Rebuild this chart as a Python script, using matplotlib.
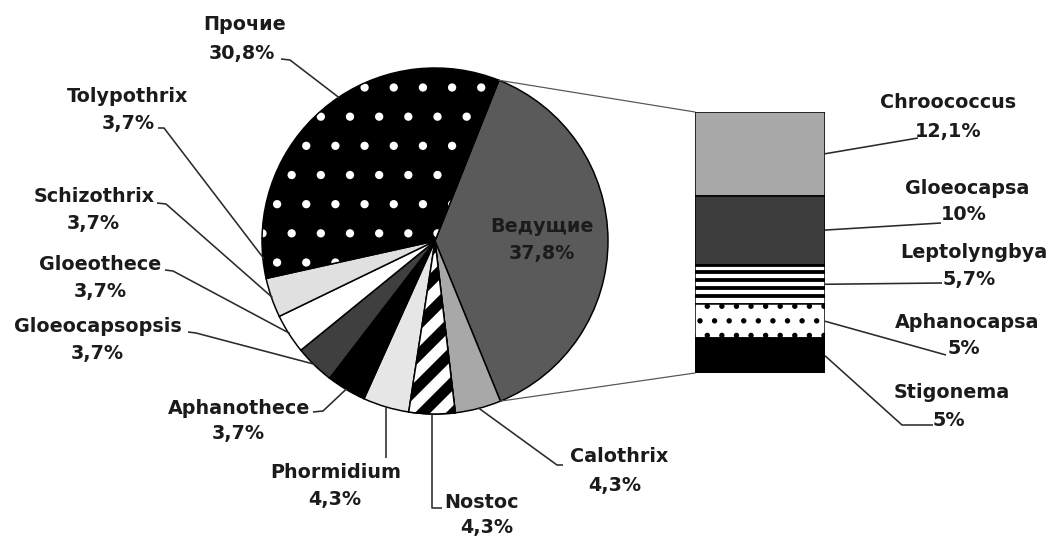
import numpy as np
import matplotlib
matplotlib.use("Agg")
import matplotlib.pyplot as plt
from matplotlib.patches import Wedge, ConnectionPatch

W, H, DPI = 1047, 536, 175

# Pie: genera groups, clockwise from the leading group
pie_names = ["Ведущие", "Calothrix", "Nostoc", "Phormidium", "Aphanothece",
             "Gloeocapsopsis", "Gloeothece", "Schizothrix", "Tolypothrix", "Прочие"]
pie_values = [37.8, 4.3, 4.3, 4.3, 3.7, 3.7, 3.7, 3.7, 3.7, 30.8]

# Breakdown of the leading group, top to bottom
bar_names = ["Chroococcus", "Gloeocapsa", "Leptolyngbya", "Aphanocapsa", "Stigonema"]
bar_values = [12.1, 10, 5.7, 5, 5]


def pct(v):
    s = f"{v:g}".replace(".", ",")
    return s + "%"


def px2pt(p):
    return p * 72.0 / DPI


def Y(y):
    # pixel rows counted from the top -> data y counted from the bottom
    return H - y


FS = px2pt(19.2)
TXT = "#1b1b1b"
LINE = "#2b2b2b"
LW = px2pt(1.6)
EDGE = px2pt(1.5)
plt.rcParams["font.family"] = ["DejaVu Sans"]

fig = plt.figure(figsize=(W / DPI, H / DPI), dpi=DPI)
fig.patch.set_facecolor("white")
ax = fig.add_axes([0, 0, 1, 1])

# ---- pie ----
cx, cy, R = 435, Y(241), 173
pie_faces = ["#5a5a5a", "#a8a8a8", "black", "#e6e6e6", "black",
             "#3f3f3f", "white", "#e0e0e0", "black", "black"]
dotted = {"Tolypothrix", "Прочие"}

wedges, _ = ax.pie(pie_values, center=(cx, cy), radius=R, startangle=68.3,
                   counterclock=False, colors=pie_faces,
                   wedgeprops=dict(edgecolor="black", linewidth=EDGE))

textured = []
for name, w in zip(pie_names, wedges):
    if name in dotted:
        # white dot hatch on black
        w.set_edgecolor("white")
        w.set_linewidth(0)
        w.set_hatch(".")
        textured.append(w)

# diagonal white stripes on Nostoc
nostoc = wedges[pie_names.index("Nostoc")]
step, slope = 31.0, 1.0
for c in np.arange(cy - R - 250, cy + 250, step):
    xs = np.array([cx - 120, cx + 120])
    ys = c + slope * (xs - cx)
    ln, = ax.plot(xs, ys, color="white", lw=px2pt(11), zorder=1.05,
                  solid_capstyle="butt")
    ln.set_clip_path(nostoc)
textured.append(nostoc)

for w in textured:
    ax.add_patch(Wedge(w.center, w.r, w.theta1, w.theta2, fill=False,
                       edgecolor="black", linewidth=EDGE, zorder=1.1))


def edge_point(w, frac=0.995):
    a = np.deg2rad((w.theta1 + w.theta2) / 2.0)
    return cx + R * frac * np.cos(a), cy + R * frac * np.sin(a)


# label text positions (name, value) and elbow points, in pixel rows from top
pie_label_pos = {
    "Прочие": ((245, 25), (242, 53), [(281, 59), (290, 60)]),
    "Tolypothrix": ((128, 97), (128, 123), [(158, 128), (164, 128)]),
    "Schizothrix": ((94, 197), (93, 223), [(157, 203), (166, 204)]),
    "Gloeothece": ((100, 265), (100, 291), [(165, 270), (173, 271)]),
    "Gloeocapsopsis": ((98, 327), (97, 353), [(188, 332), (196, 333)]),
    "Aphanothece": ((239, 408), (238, 433), [(313, 412), (323, 411)]),
    "Phormidium": ((336, 473), (335, 500), None),
    "Nostoc": ((482, 503), (487, 528), None),
    "Calothrix": ((619, 457), (615, 485), [(563, 465), (557, 465)]),
}

for name, val, w in zip(pie_names, pie_values, wedges):
    if name == "Ведущие":
        lx = cx + 0.62 * R
        ax.text(lx, cy + 14, name, ha="center", va="center", fontsize=FS,
                fontweight="bold", color=TXT, zorder=10)
        ax.text(lx, cy - 12, pct(val), ha="center", va="center", fontsize=FS,
                fontweight="bold", color=TXT, zorder=10)
        continue
    (nx, ny), (vx, vy), elbow = pie_label_pos[name]
    ax.text(nx, Y(ny), name, ha="center", va="center", fontsize=FS,
            fontweight="bold", color=TXT, zorder=10)
    ax.text(vx, Y(vy), pct(val), ha="center", va="center", fontsize=FS,
            fontweight="bold", color=TXT, zorder=10)
    ex, ey = edge_point(w)
    if name == "Phormidium":
        xs, ys = [ex, ex], [ey, Y(458)]
    elif name == "Nostoc":
        xs, ys = [ex, ex, 442], [ey, Y(508), Y(508)]
    else:
        pts = [(x, Y(y)) for x, y in elbow] + [(ex, ey)]
        xs, ys = zip(*pts)
    ax.plot(xs, ys, color=LINE, lw=LW, zorder=9, solid_capstyle="butt")

ax.set_xlim(0, W)
ax.set_ylim(0, H)
ax.set_aspect("auto")
ax.axis("off")

# ---- stacked bar for the leading group ----
bx0, bx1, by0, by1 = 695, 825, 112, 373
ax2 = fig.add_axes([bx0 / W, (H - by1) / H, (bx1 - bx0) / W, (by1 - by0) / H])
bar_faces = ["#a8a8a8", "#3c3c3c", "white", "white", "black"]
total = sum(bar_values)
tops = total - np.concatenate([[0], np.cumsum(bar_values)[:-1]])
mids = []
bars = {}
for name, v, top, fc in zip(bar_names, bar_values, tops, bar_faces):
    b = ax2.bar(0, v, bottom=top - v, width=1.0, color=fc, edgecolor="black",
                linewidth=EDGE, zorder=1)[0]
    bars[name] = b
    mids.append(top - v / 2.0)

# horizontal black stripes on Leptolyngbya
lep = bars["Leptolyngbya"]
lb, lh = lep.get_y(), lep.get_height()
for k in range(1, 6):
    yk = lb + k * lh / 5.0
    ln, = ax2.plot([-0.5, 0.5], [yk, yk], color="black", lw=px2pt(3.8),
                   zorder=1.05, solid_capstyle="butt")
    ln.set_clip_path(lep)

# black dots on Aphanocapsa
aph = bars["Aphanocapsa"]
aph.set_hatch("..")

ax2.set_xlim(-0.5, 0.5)
ax2.set_ylim(0, total)
ax2.axis("off")

# connectors from the leading wedge to the bar corners
lead = wedges[0]
for ang, ybar in ((lead.theta2, total), (lead.theta1, 0)):
    a = np.deg2rad(ang)
    p = (cx + R * np.cos(a), cy + R * np.sin(a))
    con = ConnectionPatch(xyA=p, coordsA=ax.transData, xyB=(-0.5, ybar),
                          coordsB=ax2.transData, color="#555555", lw=px2pt(1.2))
    fig.add_artist(con)

bar_label_pos = {
    "Chroococcus": ((948, 103), (948, 132), [(918, 138)]),
    "Gloeocapsa": ((967, 189), (964, 215), [(941, 223)]),
    "Leptolyngbya": ((974, 252), (969, 280), [(942, 283)]),
    "Aphanocapsa": ((967, 322), (964, 348), [(946, 355)]),
    "Stigonema": ((952, 393), (949, 420), [(902, 425), (933, 425)]),
}

to_main = ax2.transData + ax.transData.inverted()
for name, val, m in zip(bar_names, bar_values, mids):
    (nx, ny), (vx, vy), pts = bar_label_pos[name]
    ax.text(nx, Y(ny), name, ha="center", va="center", fontsize=FS,
            fontweight="bold", color=TXT, zorder=10)
    ax.text(vx, Y(vy), pct(val), ha="center", va="center", fontsize=FS,
            fontweight="bold", color=TXT, zorder=10)
    sx, sy = to_main.transform((0.5, m))
    line = [(sx, sy)] + [(x, Y(y)) for x, y in pts]
    xs, ys = zip(*line)
    ax.plot(xs, ys, color=LINE, lw=LW, zorder=9, solid_capstyle="butt")

fig.savefig("out.png", dpi=DPI, facecolor="white")
